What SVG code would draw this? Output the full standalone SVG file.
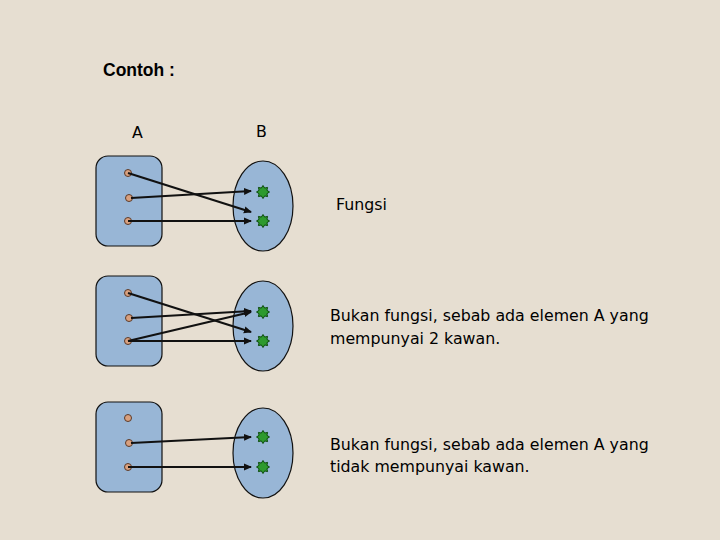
<svg xmlns="http://www.w3.org/2000/svg" width="720" height="540" viewBox="0 0 720 540">
<style>
.set{fill:#98b6d6;stroke:#111;stroke-width:1.2}
.pt{fill:#d9a07e;stroke:#5a3a2a;stroke-width:1}
.star{fill:#2e9a2e;stroke:#0b4a0b;stroke-width:1}
.ln{stroke:#111;stroke-width:2.2;fill:none;marker-end:url(#ah)}
.t{font-family:"DejaVu Sans",Verdana,sans-serif;font-size:15.8px;fill:#000}
.h{font-family:"Liberation Sans",Arial,sans-serif;font-size:17.5px;font-weight:bold;fill:#000}
</style>
<defs>
<marker id="ah" markerWidth="8" markerHeight="8" refX="7" refY="4" orient="auto" markerUnits="userSpaceOnUse"><path d="M0,0.5 L8,4 L0,7.5 Z" fill="#111"/></marker>
<path id="st" d="M0,-6.5 L1.7,-3.9 L4.6,-4.6 L3.9,-1.7 L6.5,0 L3.9,1.7 L4.6,4.6 L1.7,3.9 L0,6.5 L-1.7,3.9 L-4.6,4.6 L-3.9,1.7 L-6.5,0 L-3.9,-1.7 L-4.6,-4.6 L-1.7,-3.9 Z"/>
</defs>
<rect width="720" height="540" fill="#e6ded1"/>
<text class="h" x="103" y="76">Contoh :</text>
<text class="t" x="132" y="138">A</text>
<text class="t" x="256" y="137">B</text>
<g id="panel1">
<rect class="set" x="96" y="156" width="66" height="90" rx="12"/>
<ellipse class="set" cx="263" cy="206" rx="30" ry="45"/>
<circle class="pt" cx="128" cy="173" r="3.5"/><circle class="pt" cx="129" cy="198" r="3.5"/><circle class="pt" cx="128" cy="221" r="3.5"/>
<use href="#st" class="star" x="263" y="192"/><use href="#st" class="star" x="263" y="221"/>
<text class="t" x="336" y="210">Fungsi</text>
</g>
<g id="panel2">
<rect class="set" x="96" y="276" width="66" height="90" rx="12"/>
<ellipse class="set" cx="263" cy="326" rx="30" ry="45"/>
<circle class="pt" cx="128" cy="293" r="3.5"/><circle class="pt" cx="129" cy="318" r="3.5"/><circle class="pt" cx="128" cy="341" r="3.5"/>
<use href="#st" class="star" x="263" y="312"/><use href="#st" class="star" x="263" y="341"/>
<text class="t" x="330" y="321">Bukan fungsi, sebab ada elemen A yang</text>
<text class="t" x="330" y="344">mempunyai 2 kawan.</text>
</g>
<g id="panel3">
<rect class="set" x="96" y="402" width="66" height="90" rx="12"/>
<ellipse class="set" cx="263" cy="453" rx="30" ry="45"/>
<circle class="pt" cx="128" cy="418" r="3.5"/><circle class="pt" cx="129" cy="443" r="3.5"/><circle class="pt" cx="128" cy="467" r="3.5"/>
<use href="#st" class="star" x="263" y="437"/><use href="#st" class="star" x="263" y="467"/>
<text class="t" x="330" y="450">Bukan fungsi, sebab ada elemen A yang</text>
<text class="t" x="330" y="472">tidak mempunyai kawan.</text>
</g>
<g id="connectors">
<line class="ln" x1="128" y1="173" x2="251" y2="212"/>
<line class="ln" x1="131" y1="198" x2="251" y2="191"/>
<line class="ln" x1="128" y1="221" x2="251" y2="221"/>
<line class="ln" x1="128" y1="293" x2="251" y2="332"/>
<line class="ln" x1="131" y1="318" x2="251" y2="311"/>
<line class="ln" x1="128" y1="341" x2="251" y2="312"/>
<line class="ln" x1="128" y1="341" x2="251" y2="341"/>
<line class="ln" x1="131" y1="443" x2="251" y2="437"/>
<line class="ln" x1="128" y1="467" x2="251" y2="467"/>
</g>
</svg>
